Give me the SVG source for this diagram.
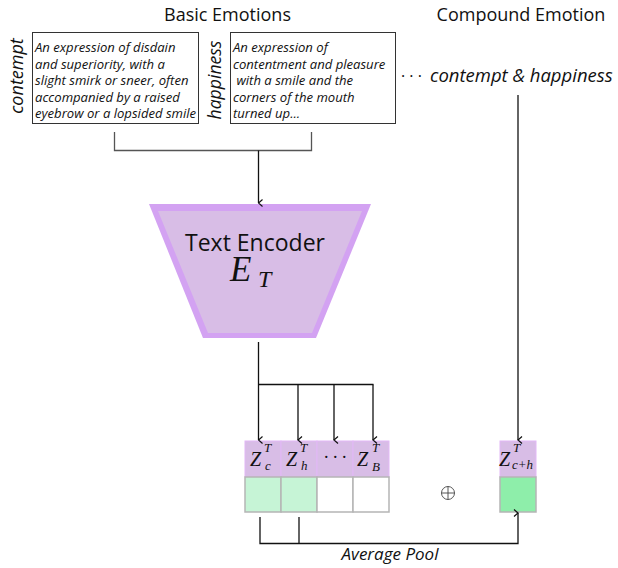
<svg xmlns="http://www.w3.org/2000/svg" width="618" height="568" viewBox="0 0 618 568">
<defs>
<style>
.sans{font-family:"Open Sans","Noto Sans","DejaVu Sans",sans-serif;fill:#111}
.it{font-style:italic}
.desc{font-family:"Open Sans","Noto Sans",sans-serif;font-style:italic;font-size:13.1px;fill:#111}
.math{font-family:"Liberation Serif","DejaVu Serif",serif;font-style:italic;fill:#111}
.box{fill:#fff;stroke:#333;stroke-width:1}
.conn{fill:none;stroke:#111;stroke-width:1.3}
.gconn{fill:none;stroke:#555;stroke-width:1.3}
.zt{fill:#d8bde6;stroke:#e2b8f6;stroke-width:1}
.cell{stroke:#b5b5b5;stroke-width:1.5}
</style>
<marker id="arr" viewBox="0 0 10 10" refX="5" refY="9" markerWidth="10" markerHeight="10" markerUnits="userSpaceOnUse" orient="auto-start-reverse">
<path d="M1.5,5 L5,9 L8.5,5" fill="none" stroke="#111" stroke-width="1.2"/>
</marker>
</defs>
<rect width="618" height="568" fill="#fff"/>

<text class="sans" x="227.5" y="21" font-size="18" text-anchor="middle">Basic Emotions</text>
<text class="sans" x="521" y="21" font-size="18" text-anchor="middle">Compound Emotion</text>

<g id="contempt">
<text class="sans it" font-size="18" text-anchor="middle" transform="translate(23,76) rotate(-90)">contempt</text>
<rect class="box" x="32.5" y="32.5" width="166" height="91"/>
<text class="desc" x="35" y="52">An expression of disdain</text>
<text class="desc" x="35" y="68.5">and superiority, with a</text>
<text class="desc" x="35" y="85">slight smirk or sneer, often</text>
<text class="desc" x="35" y="101.5">accompanied by a raised</text>
<text class="desc" x="35" y="118">eyebrow or a lopsided smile</text>
</g>

<g id="happiness">
<text class="sans it" font-size="17.6" text-anchor="middle" transform="translate(221,80) rotate(-90)">happiness</text>
<rect class="box" x="230.5" y="32.5" width="165" height="91"/>
<text class="desc" x="233" y="52">An expression of</text>
<text class="desc" x="233" y="68.5">contentment and pleasure</text>
<text class="desc" x="233" y="85" xml:space="preserve"> with a smile and the</text>
<text class="desc" x="233" y="101.5">corners of the mouth</text>
<text class="desc" x="233" y="118">turned up...</text>
</g>

<g id="compound">
<text class="sans" x="401" y="82" font-size="16">· · ·</text>
<text class="sans it" x="430" y="82" font-size="18.5">contempt &amp; happiness</text>
</g>

<g id="encoder">
<polygon points="149,204 371,204 316,338 203,338" fill="#d3a2f2"/>
<polygon points="158,211 362,211 312,333 208,333" fill="#d8bde6"/>
<text class="sans" x="255" y="251" font-size="23" text-anchor="middle">Text Encoder</text>
<text class="math" x="230" y="281" font-size="35">E</text>
<text class="math" x="258" y="287" font-size="24">T</text>
</g>

<g id="embeddings">
<rect class="zt" x="245" y="441" width="36" height="36"/>
<rect class="zt" x="281" y="441" width="36" height="36"/>
<rect class="zt" x="317" y="441" width="36" height="36"/>
<rect class="zt" x="353" y="441" width="36" height="36"/>
<rect class="cell" x="245" y="477" width="36" height="35" fill="#c6f4d6"/>
<rect class="cell" x="281" y="477" width="36" height="35" fill="#c6f4d6"/>
<rect class="cell" x="317" y="477" width="36" height="35" fill="#fff"/>
<rect class="cell" x="353" y="477" width="36" height="35" fill="#fff"/>
<text class="math" x="250" y="466" font-size="20">Z</text>
<text class="math" x="264" y="452" font-size="13">T</text>
<text class="math" x="265" y="470" font-size="13">c</text>
<text class="math" x="286" y="466" font-size="20">Z</text>
<text class="math" x="300" y="452" font-size="13">T</text>
<text class="math" x="301" y="470" font-size="13">h</text>
<text class="math" x="335" y="463" font-size="18" text-anchor="middle" font-style="normal">· · ·</text>
<text class="math" x="357" y="466" font-size="20">Z</text>
<text class="math" x="372" y="452" font-size="13">T</text>
<text class="math" x="372" y="471" font-size="13">B</text>
</g>

<g id="compound-embedding">
<rect class="zt" x="500" y="441" width="36" height="36"/>
<rect class="cell" x="500" y="477" width="36" height="35" fill="#8eeeaa"/>
<text class="math" x="499" y="466" font-size="20">Z</text>
<text class="math" x="513" y="452" font-size="13">T</text>
<text class="math" x="512" y="469" font-size="13">c+h</text>
</g>

<g id="oplus" fill="none" stroke="#444" stroke-width="0.9">
<circle cx="448" cy="493" r="6.5"/>
<path d="M441.5,493 H454.5 M448,486.5 V499.5"/>
</g>

<g id="connectors">
<path class="gconn" d="M114.5,132 V150.5 H311.5 V132"/>
<path class="conn" d="M258.5,150.5 V203" marker-end="url(#arr)"/>
<path class="conn" d="M518,95 V440" marker-end="url(#arr)"/>
<path class="conn" d="M258.5,342 V440" marker-end="url(#arr)"/>
<path class="conn" d="M258.5,384.5 H373.5"/>
<path class="conn" d="M298,384.5 V440" marker-end="url(#arr)"/>
<path class="conn" d="M334,384.5 V440" marker-end="url(#arr)"/>
<path class="conn" d="M373,384.5 V440" marker-end="url(#arr)"/>
<path class="conn" d="M260,517 V543.5 H518 V513" marker-end="url(#arr)"/>
<path class="conn" d="M299,517 V543.5"/>
</g>
<text class="sans it" x="390" y="560" font-size="17" text-anchor="middle">Average Pool</text>
</svg>
